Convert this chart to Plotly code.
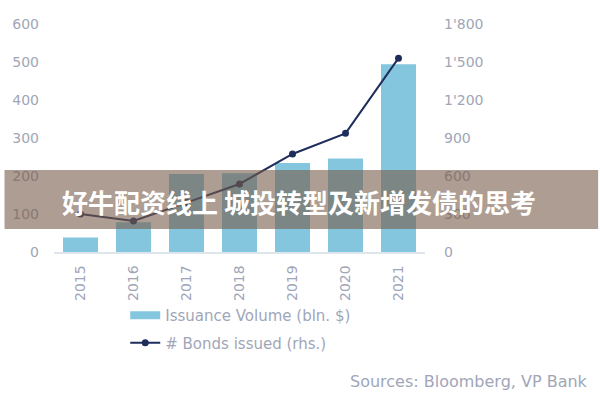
import plotly.graph_objects as go

years = ["2015", "2016", "2017", "2018", "2019", "2020", "2021"]
issuance_volume = [38, 78, 205, 207, 234, 246, 494]
bonds_issued = [300, 245, 390, 537, 774, 937, 1530]

left_ticks = [0, 100, 200, 300, 400, 500, 600]
right_ticks = [0, 300, 600, 900, 1200, 1500, 1800]
right_tick_text = ["0", "300", "600", "900", "1'200", "1'500", "1'800"]

banner_text = "好牛配资线上 城投转型及新增发债的思考"
source_text = "Sources: Bloomberg, VP Bank"

FONT = "DejaVu Sans, sans-serif"
TICK_COLOR = "#a0a6b8"
BAR_COLOR = "#84c6dd"
LINE_COLOR = "#1f2d5c"

fig = go.Figure()
fig.add_trace(go.Bar(
    x=years, y=issuance_volume, name="Issuance Volume (bln. $)",
    marker=dict(color=BAR_COLOR, line=dict(width=0)),
    yaxis="y", showlegend=False,
))
# legend entry with a wide flat swatch, as in the reference
fig.add_trace(go.Scatter(
    x=[None], y=[None], name="Issuance Volume (bln. $)",
    mode="lines", line=dict(color=BAR_COLOR, width=8),
    legendgroup="a", yaxis="y",
))
fig.add_trace(go.Scatter(
    x=years, y=bonds_issued, name="# Bonds issued (rhs.)",
    mode="lines+markers",
    line=dict(color=LINE_COLOR, width=2),
    marker=dict(color=LINE_COLOR, size=7),
    legendgroup="b", yaxis="y2",
))

fig.update_layout(
    width=600, height=400,
    margin=dict(l=50, r=175, t=24, b=148),
    paper_bgcolor="white", plot_bgcolor="white",
    bargap=0.34,
    font=dict(family=FONT, color=TICK_COLOR, size=15),
    xaxis=dict(
        type="category", range=[-0.5, 6.5],
        tickangle=-90, showgrid=False, showline=True,
        linecolor="#dfe5ec", linewidth=1.5, ticks="",
        tickfont=dict(size=14, color=TICK_COLOR),
        ticklabelstandoff=6,
    ),
    yaxis=dict(
        range=[0, 600], tickvals=left_ticks, showgrid=False,
        zeroline=False, showline=False, ticks="",
        tickfont=dict(size=14, color=TICK_COLOR),
        ticklabelstandoff=14,
    ),
    yaxis2=dict(
        range=[0, 1800], tickvals=right_ticks, ticktext=right_tick_text,
        overlaying="y", side="right", showgrid=False,
        zeroline=False, showline=False, ticks="",
        tickfont=dict(size=14, color=TICK_COLOR),
        ticklabelstandoff=18,
    ),
    legend=dict(
        orientation="v", x=(122 - 50) / 375, xanchor="left",
        y=(252 - 299) / 228, yanchor="top",
        font=dict(size=15, color=TICK_COLOR),
        itemwidth=30, tracegroupgap=5, traceorder="grouped",
        bgcolor="rgba(0,0,0,0)",
    ),
    showlegend=True,
)

fig.add_shape(
    type="rect", xref="paper", yref="paper",
    x0=-50 / 375, x1=550 / 375,
    y0=(252 - 229) / 228, y1=(252 - 170) / 228,
    fillcolor="rgba(118,92,73,0.6)", line=dict(width=0), layer="above",
)
fig.add_annotation(
    text=banner_text, xref="paper", yref="paper",
    x=(298 - 50) / 375, y=(252 - 201) / 228,
    showarrow=False, xanchor="center", yanchor="middle",
    font=dict(family="Noto Sans CJK SC", size=26, color="white", weight="bold"),
)
fig.add_annotation(
    text=source_text, xref="paper", yref="paper",
    x=(592 - 50) / 375, y=(252 - 381) / 228,
    showarrow=False, xanchor="right", yanchor="middle",
    font=dict(size=16, color=TICK_COLOR),
)

fig.write_html("out.html")
